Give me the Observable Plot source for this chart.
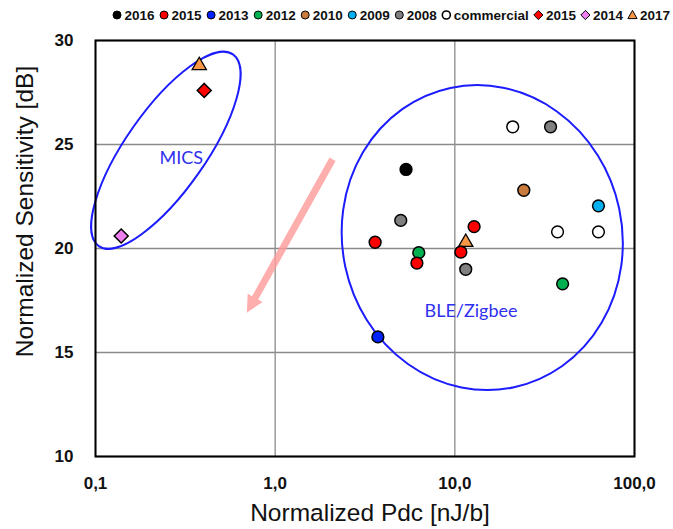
<!DOCTYPE html>
<html><head><meta charset="utf-8">
<script src="https://cdn.jsdelivr.net/npm/d3@7"></script>
<script src="https://cdn.jsdelivr.net/npm/@observablehq/plot@0.6"></script>
<style>
body{margin:0;background:#fff;}
#wrap{width:673px;}
#wrap svg{display:block;}
</style>
</head><body><div id="wrap"></div>
<script>
// ---------- data ----------
const xTicks = [0.1, 1, 10, 100];
const yTicks = [10, 15, 20, 25, 30];

const seriesKeys   = ["2016","2015","2013","2012","2010","2009","2008","commercial","2015 ◆","2014 ◆","2017 ▲"];
const seriesLabels = ["2016","2015","2013","2012","2010","2009","2008","commercial","2015","2014","2017"];
const seriesShapes = ["circle","circle","circle","circle","circle","circle","circle","circle","diamond","diamond","triangle"];

const pdc   = [0.378, 0.403, 0.139, 21.0, 34.1, 5.35, 24.2, 63.0, 5.0, 12.8, 37.3, 63.0, 3.6, 11.5, 6.3, 10.8, 6.15, 11.5, 39.8, 3.73];
const sens  = [28.8, 27.6, 20.6, 25.85, 25.85, 23.8, 22.8, 22.05, 21.35, 21.05, 20.8, 20.8, 20.3, 20.3, 19.8, 19.83, 19.3, 19.0, 18.3, 15.75];
const group = ["2017 ▲","2015 ◆","2014 ◆","commercial","2008","2016","2010","2009","2008","2015","commercial","commercial","2015","2017 ▲","2012","2015","2015","2008","2012","2013"];

const regionNames = ["MICS", "BLE/Zigbee"];
const regionLabelX = [0.30, 12.3];
const regionLabelY = [24.36, 17.0];
const regionCenterX = [0.248, 14.3];
const regionCenterY = [24.7, 20.5];

const trendFromX = 2.10, trendFromY = 24.27;
const trendToX = 0.70, trendToY = 16.89;

const xTitle = "Normalized Pdc [nJ/b]";
const yTitle = "Normalized Sensitivity [dB]";

// ---------- styles ----------
const seriesColors = ["#000000","#ff0000","#0022ff","#00b050","#c97b3d","#00b0f0","#808080","#ffffff","#ff0000","#ee7fee","#f79646"];
const ellipseStyle = [{rx:117, ry:40, rotate:-55}, {rx:140, ry:153, rotate:-12}];
const FONT = "'Liberation Sans', Arial, sans-serif";

const points = pdc.map((x, i) => ({pdc: x, sens: sens[i], series: group[i],
  shape: seriesShapes[seriesKeys.indexOf(group[i])]}));
const shapeOf = s => points.filter(d => d.shape === s);

// ---------- legend ----------
const wrap = d3.select("#wrap");
const leg = wrap.append("svg").attr("width", 673).attr("height", 28);
let lx = 117;
seriesKeys.forEach((k, i) => {
  const col = seriesColors[i], sh = seriesShapes[i];
  const g = leg.append("g").attr("transform", `translate(${lx},15)`);
  if (sh === "circle") g.append("circle").attr("r", 4).attr("fill", col).attr("stroke", "#000").attr("stroke-width", k === "commercial" ? 1.6 : 1);
  else if (sh === "diamond") g.append("path").attr("d", "M0,-4.6L4.6,0L0,4.6L-4.6,0Z").attr("fill", col).attr("stroke", "#000").attr("stroke-width", 1);
  else g.append("path").attr("d", "M0,-4.6L4.6,3.6L-4.6,3.6Z").attr("fill", col).attr("stroke", "#000").attr("stroke-width", 1);
  const t = leg.append("text").attr("x", lx + 7.5).attr("y", 20)
    .attr("font-family", FONT).attr("font-size", 13.5).attr("font-weight", "bold").attr("fill", "#111")
    .text(seriesLabels[i]);
  lx += 7.5 + t.node().getComputedTextLength() + 9.5;
});

// ---------- annotations (ellipses + trend arrow) ----------
function annotations(index, scales) {
  const g = d3.create("svg:g");
  const x1 = scales.x(trendFromX), y1 = scales.y(trendFromY);
  const x2 = scales.x(trendToX), y2 = scales.y(trendToY);
  const ang = Math.atan2(y2 - y1, x2 - x1) * 180 / Math.PI;
  const len = Math.hypot(x2 - x1, y2 - y1);
  const sw = 3.5, hl = 17, hw = 8.5;
  g.append("path")
    .attr("d", `M0,${-sw}L${len-hl},${-sw}L${len-hl},${-hw}L${len},0L${len-hl},${hw}L${len-hl},${sw}L0,${sw}Z`)
    .attr("transform", `translate(${x1},${y1}) rotate(${ang})`)
    .attr("fill", "#ff9a9a").attr("fill-opacity", 0.8);
  regionCenterX.forEach((cx, i) => {
    const s = ellipseStyle[i];
    g.append("ellipse")
      .attr("transform", `translate(${scales.x(cx)},${scales.y(regionCenterY[i])}) rotate(${s.rotate})`)
      .attr("rx", s.rx).attr("ry", s.ry)
      .attr("fill", "none").attr("stroke", "#1c1cff").attr("stroke-width", 2);
  });
  return g.node();
}

// ---------- axis titles ----------
function titles(index, scales, values, dim) {
  const g = d3.create("svg:g")
    .attr("font-family", FONT).attr("font-size", 24.5).attr("font-weight", "normal").attr("fill", "#111");
  const cx = (dim.marginLeft + dim.width - dim.marginRight) / 2;
  const cy = (dim.marginTop + dim.height - dim.marginBottom) / 2;
  g.append("text").attr("x", cx + 5.5).attr("y", dim.height - dim.marginBottom + 65)
    .attr("text-anchor", "middle").text(xTitle);
  g.append("text").attr("transform", `translate(${dim.marginLeft - 62},${cy - 36.5}) rotate(-90)`)
    .attr("text-anchor", "middle").text(yTitle);
  return g.node();
}

// ---------- chart ----------
const chart = Plot.plot({
  width: 673,
  height: 501,
  marginTop: 12,
  marginBottom: 73,
  marginLeft: 95,
  marginRight: 39,
  style: {fontFamily: FONT, fontSize: "17px", fontWeight: "bold", color: "#111", background: "#fff"},
  x: {type: "log", domain: [0.1, 100], ticks: xTicks, tickFormat: d => d.toFixed(1).replace(".", ","), tickSize: 0, tickPadding: 20, label: null},
  y: {domain: [10, 30], ticks: yTicks, tickSize: 0, tickPadding: 22, label: null},
  color: {domain: seriesKeys, range: seriesColors},
  marks: [
    Plot.ruleX(xTicks, {stroke: "#8a8a8a", strokeWidth: 1.3}),
    Plot.ruleY(yTicks, {stroke: "#8a8a8a", strokeWidth: 1.3}),
    annotations,
    Plot.text(regionNames, {x: (d, i) => regionLabelX[i], y: (d, i) => regionLabelY[i], text: d => d,
      fill: "#3030f0", fontSize: 18, fontWeight: "normal", fontFamily: "Lato, 'Open Sans', sans-serif"}),
    Plot.frame({stroke: "#000", strokeWidth: 2}),
    Plot.dot(shapeOf("triangle"), {x: "pdc", y: "sens", fill: "series", symbol: "triangle", r: 5.3, stroke: "#000", strokeWidth: 1.3}),
    Plot.dot(shapeOf("circle"), {x: "pdc", y: "sens", fill: "series", symbol: "circle", r: 5.9, stroke: "#000", strokeWidth: 1.5}),
    Plot.dot(shapeOf("diamond"), {x: "pdc", y: "sens", fill: "series", symbol: "diamond2", r: 6.3, stroke: "#000", strokeWidth: 1.5}),
    titles
  ]
});
wrap.node().appendChild(chart);
</script>
</body></html>
